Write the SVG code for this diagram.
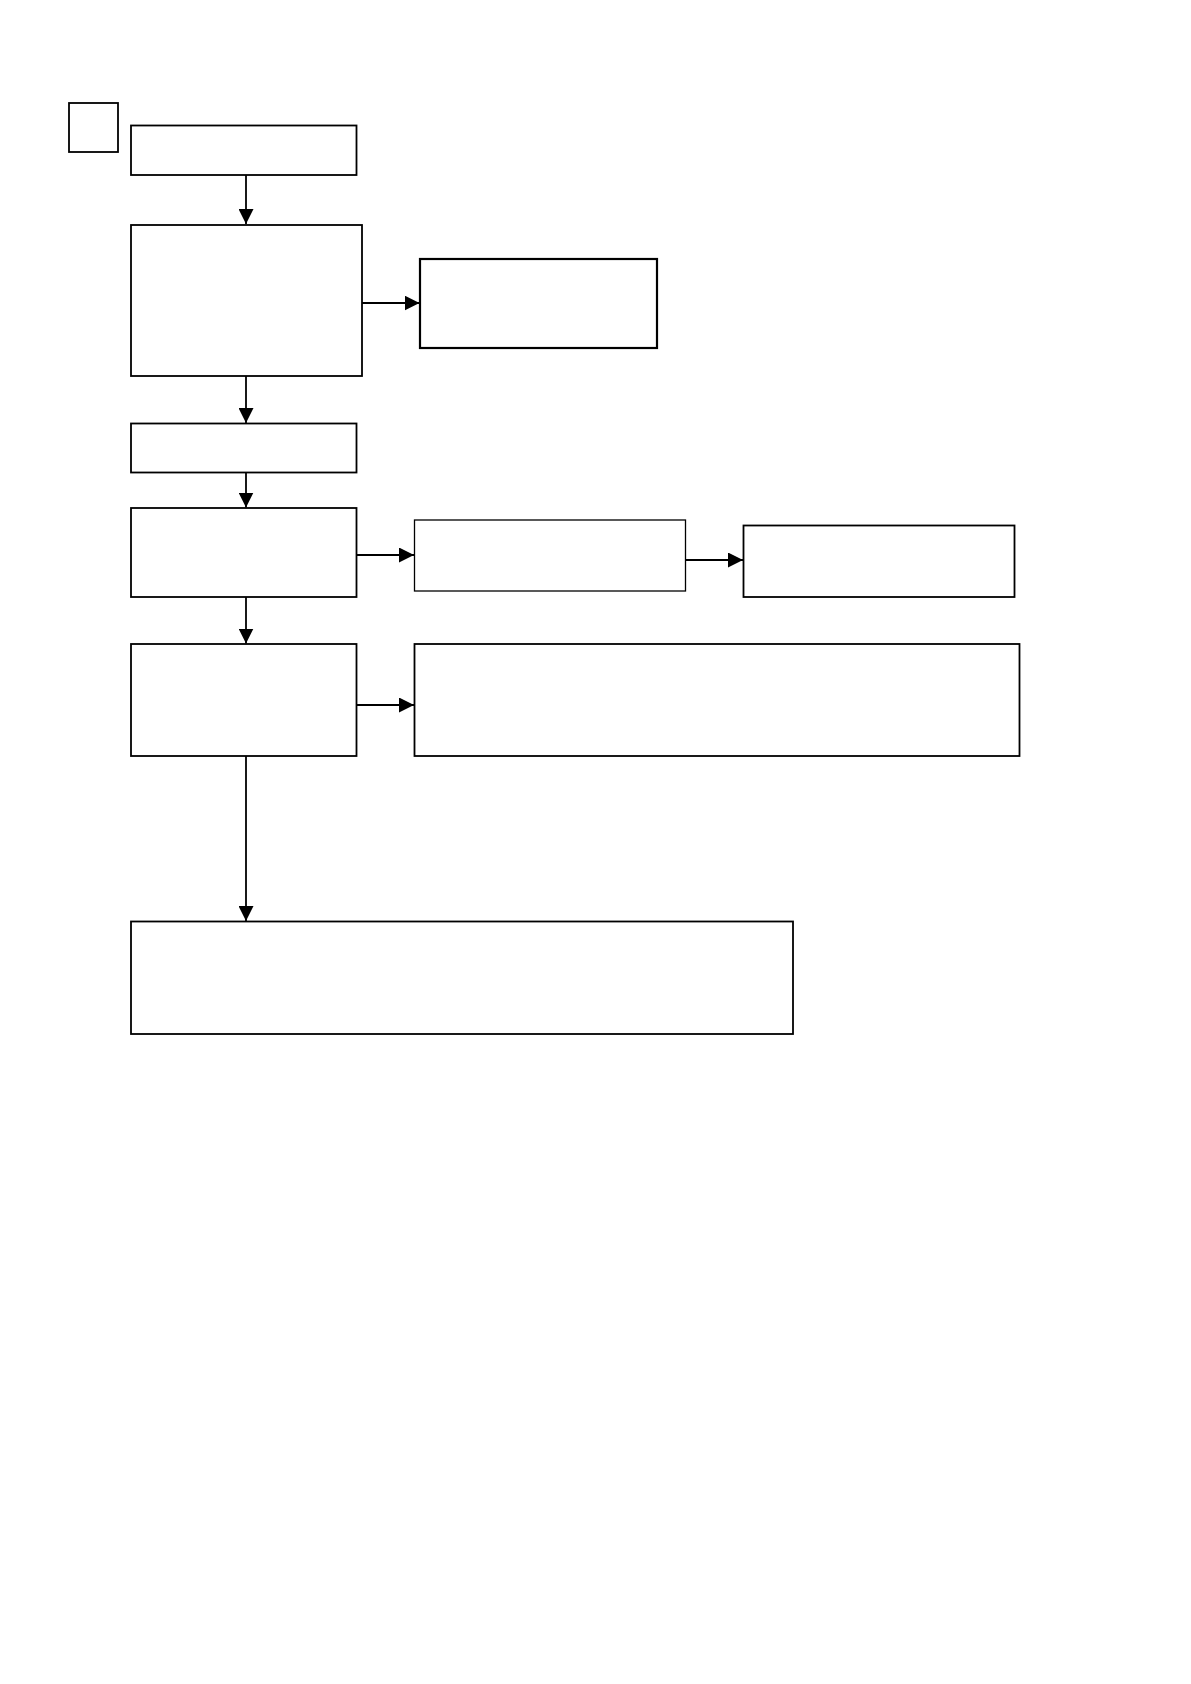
<svg xmlns="http://www.w3.org/2000/svg" width="1191" height="1684" viewBox="0 0 1191 1684">
<style>
.box{fill:#fff;stroke:#000;stroke-width:1.8}
.thin{stroke-width:1.3}
.thick{stroke-width:2.2}
.conn{stroke:#000;stroke-width:1.8;fill:none}
</style>
<defs>
<marker id="ah" markerUnits="userSpaceOnUse" markerWidth="15" markerHeight="15" viewBox="0 0 15 15" refX="15" refY="7.5" orient="auto">
<path d="M0,0 L15,7.5 L0,15 Z" fill="#000"/>
</marker>
</defs>
<rect width="1191" height="1684" fill="#fff"/>
<g id="tag"><rect class="box" x="69" y="103" width="49" height="49"/></g>
<g id="n1"><rect class="box" x="131" y="125.5" width="225.5" height="49.5"/></g>
<g id="n2"><rect class="box" x="131" y="225" width="231" height="151"/></g>
<g id="n3"><rect class="box thick" x="420" y="259" width="237" height="89"/></g>
<g id="n4"><rect class="box" x="131" y="423.5" width="225.5" height="49"/></g>
<g id="n5"><rect class="box" x="131" y="508" width="225.5" height="89"/></g>
<g id="n6"><rect class="box thin" x="414.5" y="520" width="271" height="71"/></g>
<g id="n7"><rect class="box" x="743.5" y="525.5" width="271" height="71.5"/></g>
<g id="n8"><rect class="box" x="131" y="644" width="225.5" height="112"/></g>
<g id="n9"><rect class="box" x="414.5" y="644" width="605" height="112"/></g>
<g id="n10"><rect class="box" x="131" y="921.5" width="662" height="112.5"/></g>
<g id="connectors">
<line class="conn" x1="246" y1="175" x2="246" y2="224" marker-end="url(#ah)"/>
<line class="conn" x1="362" y1="303" x2="419.5" y2="303" marker-end="url(#ah)"/>
<line class="conn" x1="246" y1="376" x2="246" y2="423" marker-end="url(#ah)"/>
<line class="conn" x1="246" y1="472.5" x2="246" y2="507.5" marker-end="url(#ah)"/>
<line class="conn" x1="356.5" y1="555" x2="414" y2="555" marker-end="url(#ah)"/>
<line class="conn" x1="685.5" y1="560" x2="743" y2="560" marker-end="url(#ah)"/>
<line class="conn" x1="246" y1="597" x2="246" y2="643.5" marker-end="url(#ah)"/>
<line class="conn" x1="356.5" y1="705" x2="414" y2="705" marker-end="url(#ah)"/>
<line class="conn" x1="246" y1="756" x2="246" y2="921" marker-end="url(#ah)"/>
</g>
</svg>
